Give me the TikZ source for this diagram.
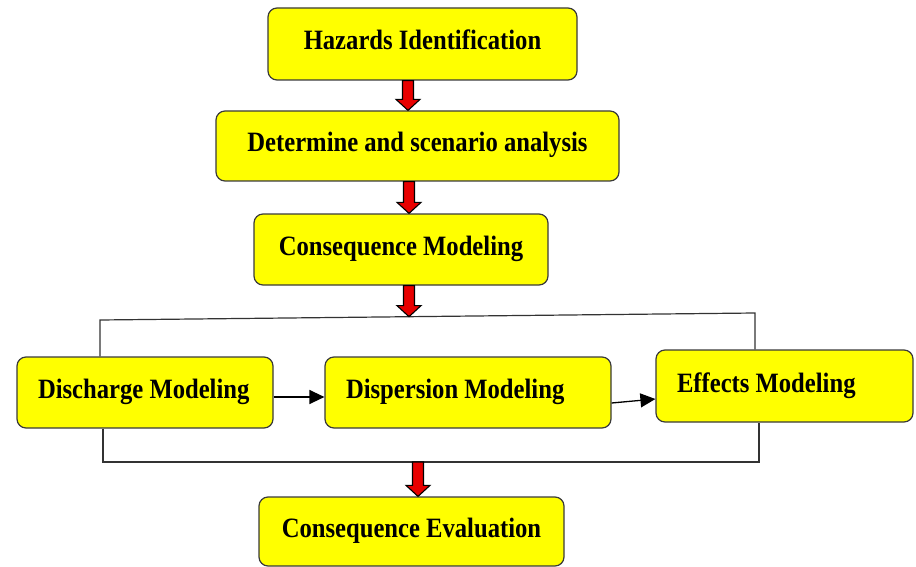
\documentclass[tikz,border=0pt]{standalone}
\usepackage{fontspec}
\newfontfamily\bxfont{Liberation Serif}[FakeStretch=0.88]
\usetikzlibrary{arrows.meta,calc}
\definecolor{boxyellow}{HTML}{FFFF00}
\definecolor{boxline}{HTML}{3A3A3A}
\definecolor{arrred}{HTML}{E80000}
\tikzset{
  ybox/.style={draw=boxline, line width=1.2pt, fill=boxyellow, rounded corners=9pt,
    font=\bxfont\bfseries\fontsize{28}{32}\selectfont, text height=19pt, text depth=7pt,
    inner sep=0pt},
  cbox/.style={ybox, align=center},
  lbox/.style={ybox, align=flush left, inner xsep=21pt},
  conn/.style={draw=black, line width=1.3pt, -{Triangle[length=15pt,width=14pt]}},
  frame/.style={draw=black!80, line width=1.2pt},
  redarrow/.style={draw=black, line width=1.1pt, fill=arrred, line join=miter}
}
\newcommand{\blockarrow}[2]{%
  \path[redarrow] let \p1=(#1), \p2=(#2) in
    (\x1-5.5pt,\y1) -- (\x1-5.5pt,\y2+11pt) -- (\x1-12pt,\y2+11pt) -- (\x1,\y2)
    -- (\x1+12pt,\y2+11pt) -- (\x1+5.5pt,\y2+11pt) -- (\x1+5.5pt,\y1) -- cycle;}
\begin{document}
\begin{tikzpicture}[x=1pt,y=-1pt]
\useasboundingbox (0,0) rectangle (916,567);
% boxes
\node[cbox, minimum width=309pt, minimum height=72pt] (hz)  at (422.5,44)   {Hazards Identification};
\node[cbox, minimum width=403pt, minimum height=70pt] (det) at (417.5,146)  {Determine and scenario analysis};
\node[cbox, minimum width=294pt, minimum height=71pt] (cm)  at (401,249.5)  {Consequence Modeling};
\node[lbox, text width=214pt, minimum height=71pt] (dis) at (145,392.5)  {\mbox{Discharge Modeling}};
\node[lbox, text width=244pt, minimum height=71pt] (dsp) at (468,392.5)  {\mbox{Dispersion Modeling}};
\node[lbox, text width=215pt, minimum height=72pt] (eff) at (784.5,386)  {\mbox{Effects Modeling}};
\node[cbox, minimum width=305pt, minimum height=69pt] (ce)  at (411.5,531.5) {Consequence Evaluation};
% bracket lines
\coordinate (tl) at (100,320);
\coordinate (tr) at (755,313);
\coordinate (bl) at (103,462);
\coordinate (br) at (759,462);
\coordinate (va) at (409,0);
\coordinate (vb) at (409,600);
\draw[frame] (tl |- dis.north) -- (tl) -- (tr) -- (tr |- eff.north);
\draw[frame] (bl |- dis.south) -- (bl) -- (br) -- (br |- eff.south);
% red block arrows
\coordinate (a1s) at (408,0 |- hz.south);
\coordinate (a1e) at (408,0 |- det.north);
\coordinate (a2s) at (409,0 |- det.south);
\coordinate (a2e) at (409,0 |- cm.north);
\coordinate (a3s) at (409,0 |- cm.south);
\coordinate (a3e) at (intersection of tl--tr and va--vb);
\coordinate (a4s) at (418,0 |- bl);
\coordinate (a4e) at (418,0 |- ce.north);
\blockarrow{a1s}{a1e}
\blockarrow{a2s}{a2e}
\blockarrow{a3s}{a3e}
\blockarrow{a4s}{a4e}
% black connectors
\draw[conn] ([yshift=-4.5pt]dis.east) -- ([yshift=-4.5pt]dsp.west);
\draw[conn] ([yshift=-10.5pt]dsp.east) -- ([yshift=-13pt]eff.west);
\end{tikzpicture}
\end{document}
